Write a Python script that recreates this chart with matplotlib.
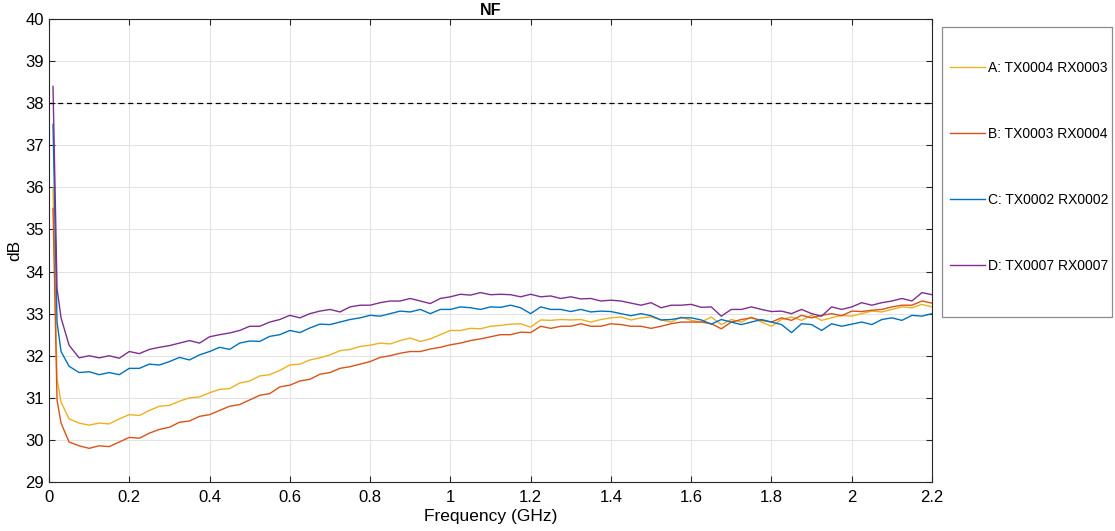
import numpy as np
import matplotlib
matplotlib.use("Agg")
import matplotlib.pyplot as plt
from matplotlib.patches import Rectangle

plt.rcParams["font.family"] = ["Liberation Sans", "DejaVu Sans"]

# ============================================================
# DADOS
# ============================================================
freq_ghz = np.concatenate([[0.01, 0.02, 0.03], np.round(np.arange(0.05, 2.2001, 0.025), 3)])

nf_A = [36.0, 31.45, 30.9,
        30.5, 30.4, 30.35, 30.4, 30.38, 30.5, 30.6, 30.58, 30.7, 30.8, 30.82, 30.92,
        31.0, 31.02, 31.12, 31.2, 31.22, 31.35, 31.4, 31.52, 31.55, 31.65, 31.78,
        31.8, 31.9, 31.95, 32.02, 32.12, 32.15, 32.22, 32.25, 32.3, 32.28, 32.36,
        32.42, 32.34, 32.4, 32.5, 32.6, 32.6, 32.65, 32.64, 32.7, 32.72, 32.75,
        32.76, 32.68, 32.85, 32.84, 32.86, 32.85, 32.86, 32.8, 32.86, 32.9, 32.92,
        32.85, 32.9, 32.92, 32.85, 32.8, 32.92, 32.84, 32.8, 32.92, 32.74, 32.86,
        32.8, 32.92, 32.8, 32.7, 32.86, 32.92, 32.84, 32.96, 32.84, 32.9, 32.96,
        32.94, 33.0, 33.06, 33.04, 33.1, 33.16, 33.14, 33.22, 33.16]

nf_B = [35.5, 30.95, 30.4,
        29.95, 29.86, 29.8, 29.86, 29.84, 29.95, 30.06, 30.04, 30.16, 30.25, 30.3,
        30.42, 30.45, 30.56, 30.6, 30.7, 30.8, 30.84, 30.95, 31.06, 31.1, 31.26,
        31.3, 31.4, 31.44, 31.56, 31.6, 31.7, 31.74, 31.8, 31.86, 31.96, 32.0, 32.06,
        32.1, 32.1, 32.16, 32.2, 32.26, 32.3, 32.36, 32.4, 32.45, 32.5, 32.5, 32.56,
        32.55, 32.7, 32.65, 32.7, 32.7, 32.76, 32.7, 32.7, 32.76, 32.74, 32.7, 32.7,
        32.65, 32.7, 32.76, 32.8, 32.8, 32.8, 32.76, 32.64, 32.8, 32.86, 32.9, 32.84,
        32.8, 32.9, 32.84, 32.96, 32.9, 32.96, 33.0, 32.95, 33.06, 33.05, 33.08,
        33.1, 33.16, 33.2, 33.2, 33.3, 33.25]

nf_C = [37.5, 32.8, 32.1,
        31.75, 31.6, 31.62, 31.55, 31.6, 31.55, 31.7, 31.7, 31.8, 31.78, 31.86,
        31.96, 31.9, 32.02, 32.1, 32.2, 32.15, 32.3, 32.35, 32.34, 32.46, 32.5,
        32.6, 32.55, 32.66, 32.75, 32.74, 32.8, 32.86, 32.9, 32.96, 32.94, 33.0,
        33.06, 33.04, 33.1, 33.0, 33.1, 33.1, 33.16, 33.14, 33.1, 33.16, 33.15,
        33.2, 33.14, 33.0, 33.16, 33.1, 33.1, 33.05, 33.1, 33.04, 33.06, 33.05,
        33.0, 32.95, 33.0, 32.95, 32.85, 32.86, 32.9, 32.9, 32.85, 32.75, 32.86,
        32.8, 32.74, 32.8, 32.86, 32.8, 32.74, 32.55, 32.76, 32.74, 32.6, 32.76,
        32.7, 32.75, 32.8, 32.74, 32.86, 32.9, 32.84, 32.96, 32.94, 33.0]

nf_D = [38.4, 33.6, 32.9,
        32.25, 31.95, 32.0, 31.95, 32.0, 31.94, 32.1, 32.05, 32.15, 32.2, 32.24,
        32.3, 32.36, 32.3, 32.45, 32.5, 32.54, 32.6, 32.7, 32.7, 32.8, 32.86, 32.96,
        32.9, 33.0, 33.06, 33.1, 33.04, 33.16, 33.2, 33.2, 33.26, 33.3, 33.3, 33.36,
        33.3, 33.24, 33.36, 33.4, 33.46, 33.44, 33.5, 33.45, 33.46, 33.45, 33.4,
        33.46, 33.4, 33.42, 33.36, 33.4, 33.35, 33.36, 33.3, 33.32, 33.3, 33.25,
        33.2, 33.26, 33.14, 33.2, 33.2, 33.22, 33.15, 33.16, 32.94, 33.1, 33.1,
        33.16, 33.1, 33.05, 33.06, 33.0, 33.1, 33.0, 32.94, 33.16, 33.1, 33.16,
        33.26, 33.2, 33.26, 33.3, 33.36, 33.3, 33.5, 33.45]

rotulos = ["A: TX0004 RX0003", "B: TX0003 RX0004", "C: TX0002 RX0002", "D: TX0007 RX0007"]
cores   = ["#EDB120", "#D95319", "#0072BD", "#7E2F8E"]
limite_nf = 38.0

# ============================================================
# GRÁFICO
# ============================================================
fig = plt.figure(figsize=(11.15, 5.31), dpi=100)
ax = fig.add_axes([49 / 1115, 49 / 531, 883 / 1115, 463 / 531])

linhas = []
for serie, cor, rot in zip([nf_A, nf_B, nf_C, nf_D], cores, rotulos):
    l, = ax.plot(freq_ghz, serie, color=cor, lw=1.0, label=rot)
    linhas.append(l)
ax.axhline(limite_nf, color="black", linestyle="--", lw=0.9, dashes=(4, 3))

ax.set_xlim(0, 2.2)
ax.set_ylim(29, 40)
ax.set_xticks(np.arange(0, 2.21, 0.2))
ax.set_xticklabels(["0", "0.2", "0.4", "0.6", "0.8", "1", "1.2", "1.4", "1.6", "1.8", "2", "2.2"])
ax.set_yticks(np.arange(29, 41, 1))
ax.grid(True, color="#e3e3e3", lw=0.7)
ax.set_axisbelow(True)
ax.tick_params(direction="in", top=True, right=True, length=4, labelsize=12, color="#262626")
ax.tick_params(axis="x", pad=6)
for s in ax.spines.values():
    s.set_color("#262626")
    s.set_linewidth(0.8)

ax.set_title("NF", fontsize=11.5, fontweight="bold", pad=3)
ax.set_xlabel("Frequency (GHz)", fontsize=12.5, labelpad=3)
ax.set_ylabel("dB", fontsize=12.5, labelpad=2)

# caixa da legenda
fig.patches.append(Rectangle((942 / 1115, 1 - 317 / 531), 170 / 1115, 290 / 531,
                             transform=fig.transFigure, fill=False,
                             edgecolor="#8c8c8c", lw=0.9))
fig.legend(handles=linhas, loc="upper left", bbox_to_anchor=(950 / 1115, 1 - 61 / 531),
           frameon=False, fontsize=10, handlelength=2.5, handletextpad=0.2,
           labelspacing=3.75, borderpad=0, borderaxespad=0)

fig.savefig("out.png", dpi=100)
